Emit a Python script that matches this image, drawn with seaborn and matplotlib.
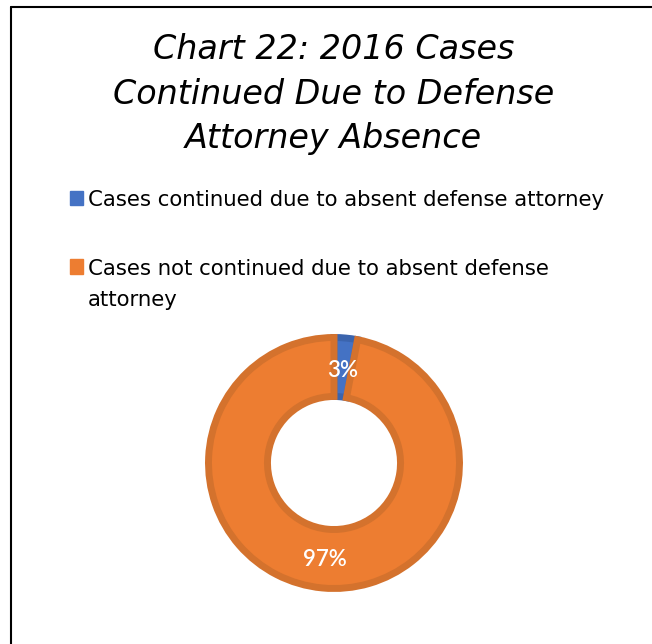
import matplotlib
matplotlib.use("Agg")
import matplotlib.pyplot as plt
import matplotlib.patches as mpatches
import numpy as np
import seaborn as sns

# data
categories = ["Cases continued due to absent defense attorney",
              "Cases not continued due to absent defense\nattorney"]
shares = [3, 97]
pct_labels = ["3%", "97%"]
title = "Chart 22: 2016 Cases\nContinued Due to Defense\nAttorney Absence"

sns.set_theme(style="white")
plt.rcParams["font.family"] = ["DejaVu Sans"]

colors = ["#4472C4", "#ED7D31"]
edges = ["#3B64AD", "#D4722D"]

fig = plt.figure(figsize=(6.52, 6.44), dpi=100)
fig.patch.set_facecolor("white")

# frame lines (left + top, like the cropped box in the reference)
fig.add_artist(plt.Line2D([11 / 652, 11 / 652], [0, 1 - 7 / 644], color="black", lw=1.5))
fig.add_artist(plt.Line2D([11 / 652, 1], [1 - 7 / 644, 1 - 7 / 644], color="black", lw=1.5))

fig.text(0.512, 1 - 94 / 644, title, ha="center", va="center", fontsize=24,
         style="italic", linespacing=1.44, color="black")

cx, cy, r = 334 / 652, 1 - 463 / 644, 128
ax = fig.add_axes([cx - r / 652, cy - r / 644, 2 * r / 652, 2 * r / 644])
wedges, _ = ax.pie(shares, colors=colors, startangle=90, counterclock=False,
                   wedgeprops=dict(width=0.47, linewidth=5), radius=1)
for w, ec in zip(wedges, edges):
    w.set_edgecolor(ec)
for w, lab in zip(wedges, pct_labels):
    ang = np.deg2rad((w.theta1 + w.theta2) / 2)
    ax.text(0.76 * np.cos(ang), 0.76 * np.sin(ang), lab, ha="center", va="center_baseline",
            color="white", fontsize=16, family="Lato", fontweight="semibold")
ax.set_xlim(-1.02, 1.02)
ax.set_ylim(-1.02, 1.02)
ax.set_aspect("equal")
ax.axis("off")

handles = [mpatches.Patch(facecolor=c, edgecolor=c) for c in colors]
leg = fig.legend(handles, categories, loc="upper left", bbox_to_anchor=(61 / 652, 1 - 182 / 644),
                 frameon=False, fontsize=15.3, handlelength=0.65, handleheight=0.65,
                 handletextpad=0.2, labelspacing=2.3, borderaxespad=0, labelcolor="black")
for t in leg.get_texts():
    t.set_linespacing(1.65)
# keep the swatch next to the first line of a wrapped label
for col in leg._legend_handle_box.get_children():
    for row in col.get_children():
        row.align = "top"

fig.savefig("out.png", dpi=100)
